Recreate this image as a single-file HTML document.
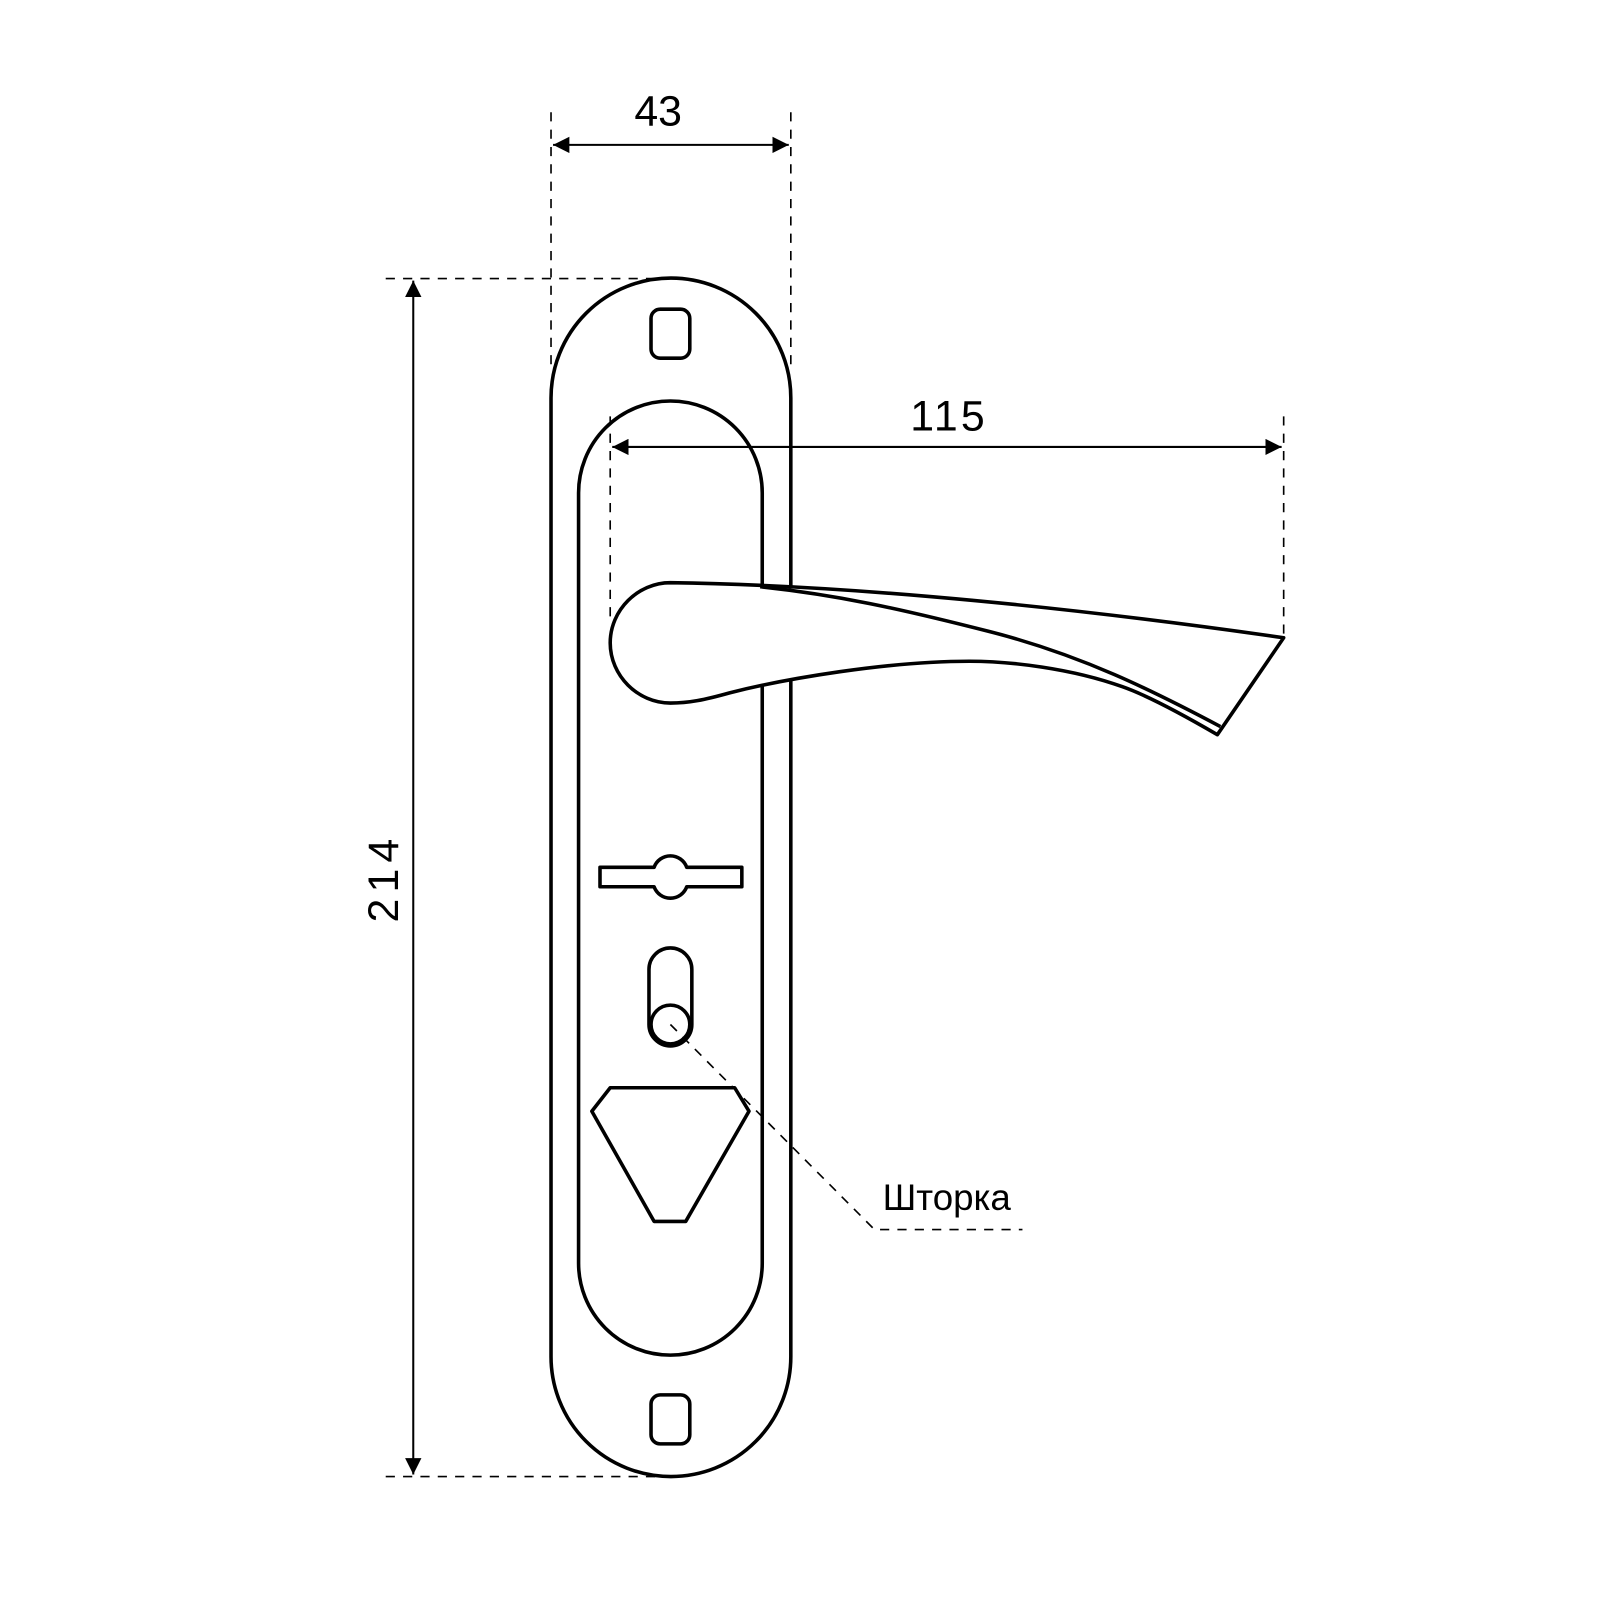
<!DOCTYPE html>
<html><head><style>html,body{margin:0;padding:0;background:#fff}svg{display:block}</style></head>
<body>
<svg width="1600" height="1600" viewBox="0 0 1568 1568" xmlns="http://www.w3.org/2000/svg">
<defs>
<marker id="a" viewBox="0 0 10 10" refX="10" refY="5" markerWidth="16" markerHeight="16" markerUnits="userSpaceOnUse" orient="auto-start-reverse"><path d="M0,0 L10,5 L0,10 z" fill="#000"/></marker>
</defs>
<g fill="none" stroke="#000" stroke-width="1.6" stroke-dasharray="9,8">
<line x1="540" y1="110" x2="540" y2="365"/>
<line x1="775" y1="110" x2="775" y2="365"/>
<line x1="378" y1="273" x2="645" y2="273"/>
<line x1="378" y1="1447" x2="645" y2="1447"/>
<line x1="598" y1="408" x2="598" y2="612"/>
<line x1="1258" y1="408" x2="1258" y2="622"/>
</g>
<g stroke="#000" stroke-width="2" fill="none">
<line x1="542" y1="142" x2="773" y2="142" marker-start="url(#a)" marker-end="url(#a)"/>
<line x1="405" y1="275" x2="405" y2="1445" marker-start="url(#a)" marker-end="url(#a)"/>
<line x1="600" y1="438" x2="1256" y2="438" marker-start="url(#a)" marker-end="url(#a)"/>
</g>
<g stroke="#000" stroke-width="3.5" fill="none" stroke-linejoin="round">
<path d="M540,390 A117.5,117.5 0 0 1 775,390 L775,1329.5 A117.5,117.5 0 0 1 540,1329.5 Z"/>
<path d="M567,483 A90,90 0 0 1 747,483 L747,1238 A90,90 0 0 1 567,1238 Z"/>
<rect x="638" y="303" width="38" height="48" rx="9"/>
<rect x="638" y="1367" width="38" height="48" rx="9"/>
<path d="M588,850 L641,850 A17,17 0 0 1 673,850 L727,850 L727,869 L673,869 A17,17 0 0 1 641,869 L588,869 Z"/>
<rect x="636" y="929" width="42" height="96" rx="21"/>
<circle cx="657" cy="1004" r="19" fill="#fff"/>
<polygon points="598,1066 720,1066 734,1089 672,1197 641,1197 580,1089"/>
<path fill="#fff" d="M657,571 C800,573 1000,588 1258,625 L1193,720 C1150,695 1120,680 1100,673 C1050,655 990,648 950,648 C870,648 770,665 715,679 C690,686 675,689 657,689 C625,689 598,662 598,630 C598,598 625,571 657,571 Z"/>
<path d="M745,575 C820,583 880,596 970,619 C1060,642 1130,677 1196,712"/>
</g>
<polyline points="657,1004 857,1205 1002,1205" fill="none" stroke="#000" stroke-width="1.6" stroke-dasharray="9,8"/>
<g font-family="Liberation Sans, sans-serif" fill="#000">
<text x="645" y="123" font-size="42" text-anchor="middle">43</text>
<text x="930" y="422" font-size="42" text-anchor="middle" letter-spacing="3">115</text>
<text transform="translate(390,860) rotate(-90)" font-size="42" text-anchor="middle" letter-spacing="6">214</text>
<text x="865" y="1186" font-size="36">Шторка</text>
</g>
</svg>
</body></html>
